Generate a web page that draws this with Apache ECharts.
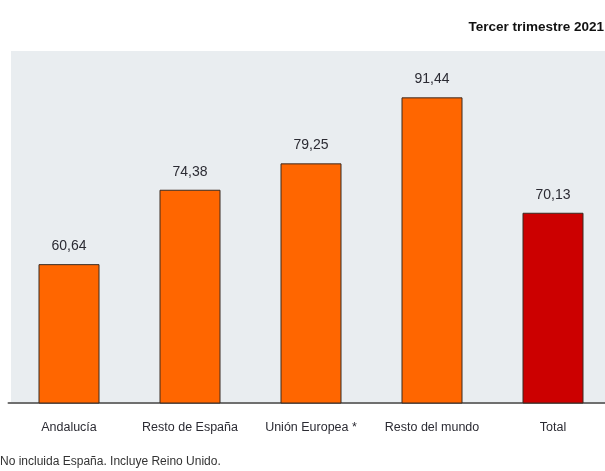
<!DOCTYPE html>
<html>
<head>
<meta charset="utf-8">
<script src="https://cdn.jsdelivr.net/npm/echarts@6/dist/echarts.min.js"></script>
<style>
html,body{margin:0;padding:0;background:#fff;overflow:hidden;}
#c{width:614px;height:471px;}
</style>
</head>
<body>
<div id="c"></div>
<script>
const categories = ['Andalucía', 'Resto de España', 'Unión Europea *', 'Resto del mundo', 'Total'];
const values = [60.64, 74.38, 79.25, 91.44, 70.13];
const barColors = ['#ff6600', '#ff6600', '#ff6600', '#ff6600', '#cc0000'];
const titleText = 'Tercer trimestre 2021';
const footnoteText = 'No incluida España. Incluye Reino Unido.';

const FONT = '"Liberation Sans", Arial, sans-serif';
const chart = echarts.init(document.getElementById('c'), null, {renderer: 'canvas'});
chart.setOption({
  animation: false,
  backgroundColor: '#ffffff',
  title: [{
    text: titleText,
    right: 10,
    top: 20,
    padding: 0,
    textStyle: {fontFamily: FONT, fontSize: 13.5, fontWeight: 'bold', color: '#111111'}
  }, {
    text: footnoteText,
    left: 0,
    top: 456,
    padding: 0,
    textStyle: {fontFamily: FONT, fontSize: 12, fontWeight: 'normal', color: '#333333'}
  }],
  graphic: [{
    type: 'rect',
    z: -10,
    silent: true,
    shape: {x: 11, y: 51, width: 603, height: 352},
    style: {fill: '#e9edf0'}
  }],
  grid: {left: 8.5, top: 51, right: 0.5, height: 352, containLabel: false},
  xAxis: {
    type: 'category',
    data: categories,
    axisLine: {show: true, lineStyle: {color: '#6f6f6f', width: 2}},
    axisTick: {show: false},
    axisLabel: {fontFamily: FONT, fontSize: 12.5, color: '#2b2b33', margin: 18, interval: 0}
  },
  yAxis: {
    type: 'value',
    min: 35,
    max: 100,
    show: false,
    splitLine: {show: false}
  },
  series: [{
    type: 'bar',
    barWidth: 61,
    data: values.map((v, i) => ({value: v, itemStyle: {color: barColors[i]}})),
    itemStyle: {borderColor: '#3a2a20', borderWidth: 1},
    label: {
      show: true,
      position: 'top',
      distance: 11,
      fontFamily: FONT,
      fontSize: 14,
      color: '#2b2b33',
      formatter: p => p.value.toFixed(2).replace('.', ',')
    }
  }]
});
</script>
</body>
</html>
